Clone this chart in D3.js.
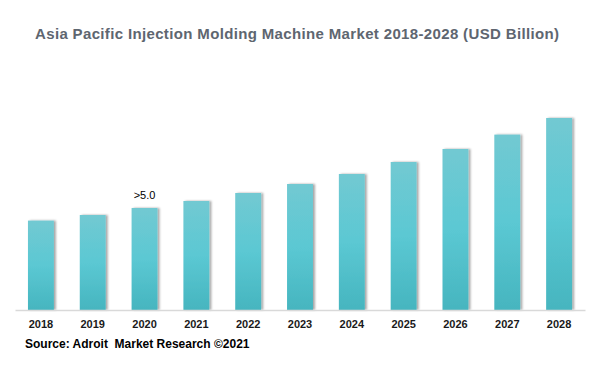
<!DOCTYPE html>
<html>
<head>
<meta charset="utf-8">
<script src="https://cdn.jsdelivr.net/npm/d3@7"></script>
<style>
  html, body { margin: 0; padding: 0; background: #fff; }
  svg { display: block; }
</style>
</head>
<body>
<svg id="chart" width="609" height="368"></svg>
<script>
const years = ["2018","2019","2020","2021","2022","2023","2024","2025","2026","2027","2028"];
const values = [4.47, 4.75, 5.1, 5.45, 5.85, 6.3, 6.8, 7.4, 8.05, 8.77, 9.6];
const annotations = [{ year: "2020", text: ">5.0" }];
const titleText = "Asia Pacific Injection Molding Machine Market 2018-2028 (USD Billion)";
const sourceText = "Source: Adroit  Market Research \u00A92021";

const svg = d3.select("#chart");
const W = 609, H = 368;
const left = 15, right = 585, baseline = 310;

const x = d3.scaleBand().domain(years).range([left, right]).paddingInner(0.5).paddingOuter(0.25);
const y = d3.scaleLinear().domain([0, 10]).range([baseline, 110]);

const defs = svg.append("defs");
const grad = defs.append("linearGradient").attr("id", "barGrad")
  .attr("x1", 0).attr("y1", 0).attr("x2", 0).attr("y2", 1);
grad.append("stop").attr("offset", "0%").attr("stop-color", "#72c9d2");
grad.append("stop").attr("offset", "50%").attr("stop-color", "#5bc8d3");
grad.append("stop").attr("offset", "100%").attr("stop-color", "#46b5bf");

const filt = defs.append("filter").attr("id", "shadow")
  .attr("x", "-30%").attr("y", "-10%").attr("width", "160%").attr("height", "120%");
filt.append("feDropShadow").attr("dx", 2).attr("dy", 0).attr("stdDeviation", 1.2)
  .attr("flood-color", "#000").attr("flood-opacity", 0.35);

// title
svg.append("text")
  .attr("x", 35).attr("y", 39)
  .attr("textLength", 524)
  .attr("lengthAdjust", "spacing")
  .attr("font-family", "Liberation Sans, Arial, sans-serif")
  .attr("font-weight", "bold")
  .attr("font-size", 15)
  .attr("fill", "#5e6670")
  .text(titleText);

// bars
svg.append("g").selectAll("rect")
  .data(years.map((d, i) => ({ year: d, value: values[i] })))
  .join("rect")
  .attr("x", d => x(d.year))
  .attr("width", x.bandwidth())
  .attr("y", d => y(d.value))
  .attr("height", d => baseline - y(d.value))
  .attr("fill", "url(#barGrad)")
  .attr("filter", "url(#shadow)");

// axis
const xAxis = d3.axisBottom(x).tickSize(0).tickPadding(10);
const axisG = svg.append("g").attr("transform", `translate(0,${baseline})`).call(xAxis);
axisG.select(".domain").attr("stroke", "#d9d9d9").attr("stroke-width", 1.5);
axisG.selectAll("text")
  .attr("font-family", "Liberation Sans, Arial, sans-serif")
  .attr("font-weight", "bold")
  .attr("font-size", 11)
  .attr("fill", "#1a1a1a");

// annotation
svg.append("g").selectAll("text")
  .data(annotations)
  .join("text")
  .attr("x", d => x(d.year) + x.bandwidth() / 2)
  .attr("y", d => y(values[years.indexOf(d.year)]) - 9)
  .attr("text-anchor", "middle")
  .attr("font-family", "Liberation Sans, Arial, sans-serif")
  .attr("font-size", 11)
  .attr("fill", "#000")
  .text(d => d.text);

// source
svg.append("text")
  .attr("x", 25).attr("y", 348)
  .attr("font-family", "Liberation Sans, Arial, sans-serif")
  .attr("font-weight", "bold")
  .attr("font-size", 12)
  .attr("fill", "#000")
  .attr("xml:space", "preserve")
  .style("white-space", "pre")
  .text(sourceText);
</script>
</body>
</html>
